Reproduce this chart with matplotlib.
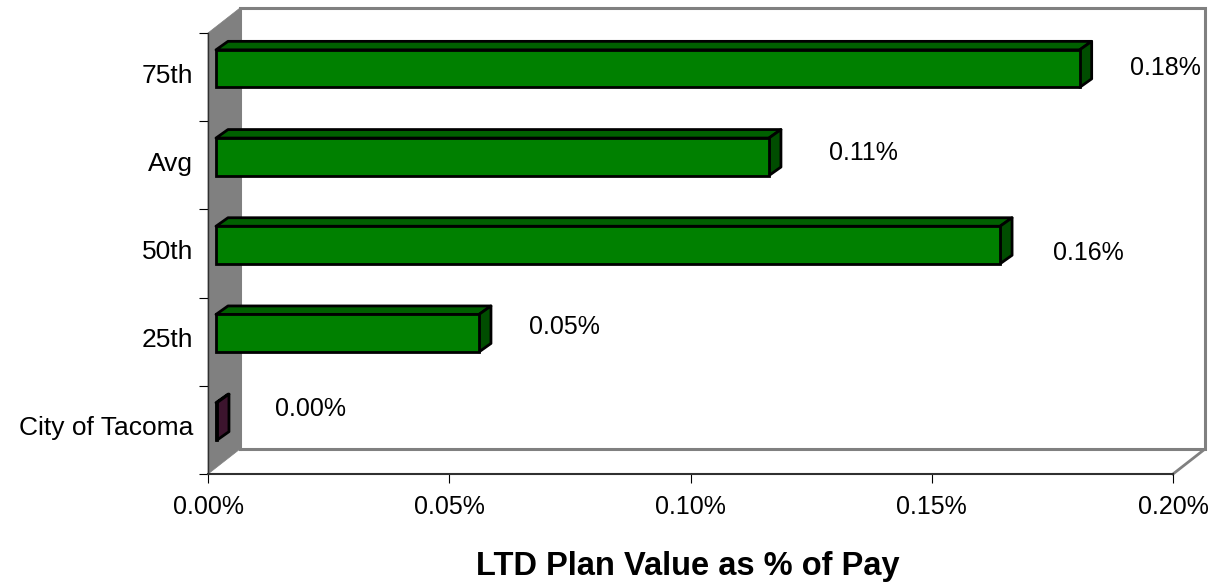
import matplotlib
matplotlib.use("Agg")
from matplotlib import pyplot as plt
from matplotlib.patches import Polygon

plt.rcParams["font.family"] = "Liberation Sans"

# Data, bottom to top
categories = ["City of Tacoma", "25th", "50th", "Avg", "75th"]
values = [0.0002, 0.0545, 0.1625, 0.1146, 0.179]
value_labels = ["0.00%", "0.05%", "0.16%", "0.11%", "0.18%"]
bar_colors = ["#501e3c", "#008000", "#008000", "#008000", "#008000"]
top_colors = ["#3c142d", "#006000", "#006000", "#006000", "#006000"]
side_colors = ["#3c142d", "#004d00", "#004d00", "#004d00", "#004d00"]
x_ticks = [0.0, 0.05, 0.10, 0.15, 0.20]
x_tick_labels = ["0.00%", "0.05%", "0.10%", "0.15%", "0.20%"]
x_title = "LTD Plan Value as % of Pay"

W, H = 1215, 584
fig = plt.figure(figsize=(W / 100, H / 100), dpi=100)
ax = fig.add_axes([208 / W, 1 - 474 / H, 965 / W, 441 / H])
ax.set_xlim(0, 0.2)
ax.set_ylim(0, 5)

# pixel sizes of the fake 3D, turned into data units
px = 0.2 / 965
py = 5 / 441
wall_dx, wall_dy = 32 * px, 25 * py
bar_dx, bar_dy = 12 * px, 8.5 * py
shift_x, shift_y = 8 * px, 8.5 * py
bar_h = 37.5 * py

# Walls and floor
grey = "#808080"
ax.add_patch(Polygon([(0, 0), (wall_dx, wall_dy), (wall_dx, 5 + wall_dy), (0, 5)],
                     closed=True, fc=grey, ec=grey, lw=0.5, clip_on=False, zorder=1))
ax.plot([wall_dx, wall_dx, 0.2 + wall_dx, 0.2 + wall_dx, wall_dx],
        [wall_dy, 5 + wall_dy, 5 + wall_dy, wall_dy, wall_dy],
        color=grey, lw=2.2, clip_on=False, zorder=1.5, solid_joinstyle="miter")
ax.plot([0.2, 0.2 + wall_dx], [0, wall_dy], color=grey, lw=2, clip_on=False, zorder=1.5)

# Bars, front face then top and side
for i, v in enumerate(values):
    y0 = i + 0.5 - bar_h / 2 + shift_y
    y1 = y0 + bar_h
    x0 = shift_x
    x1 = shift_x + v
    ax.barh(y0 + bar_h / 2, v, height=bar_h, left=x0, color=bar_colors[i],
            edgecolor="black", linewidth=2, zorder=3, clip_on=False)
    ax.add_patch(Polygon([(x0, y1), (x0 + bar_dx, y1 + bar_dy), (x1 + bar_dx, y1 + bar_dy), (x1, y1)],
                         closed=True, fc=top_colors[i], ec="black", lw=2, zorder=2.5,
                         clip_on=False, joinstyle="round"))
    ax.add_patch(Polygon([(x1, y0), (x1 + bar_dx, y0 + bar_dy), (x1 + bar_dx, y1 + bar_dy), (x1, y1)],
                         closed=True, fc=side_colors[i], ec="black", lw=2, zorder=2.5,
                         clip_on=False, joinstyle="round"))

# Value labels sit by hand next to the bar ends, like in the original
label_offsets = [(94, 21), (85, 15), (88, 0), (94, 12), (86, 9)]
for i, v in enumerate(values):
    ax.annotate(value_labels[i], xy=(v + shift_x, i + 0.5),
                xytext=(label_offsets[i][0] * 0.72, label_offsets[i][1] * 0.72),
                textcoords="offset points", ha="center", va="center",
                fontsize=18, color="black", annotation_clip=False)

# Axes
for side in ["top", "right"]:
    ax.spines[side].set_visible(False)
ax.spines["left"].set_color("#303030")
ax.spines["bottom"].set_color("#303030")
ax.spines["left"].set_linewidth(1)
ax.spines["bottom"].set_linewidth(1.5)
ax.set_xticks(x_ticks)
ax.set_xticklabels(x_tick_labels, fontsize=18)
ax.tick_params(axis="x", length=6.5, width=0.8, pad=8.5)
ax.set_yticks(range(6))
ax.set_yticklabels([])
ax.tick_params(axis="y", which="major", length=6.5, width=0.8)
ax.set_yticks([i + 0.5 + 4 * py for i in range(5)], minor=True)
ax.set_yticklabels(categories, minor=True, fontsize=19)
ax.tick_params(axis="y", which="minor", length=0, pad=10.5)

fig.text(688 / W, 1 - 566 / H, x_title, ha="center", va="center",
         fontsize=23.5, fontweight="bold")

fig.savefig("out.png", dpi=100)
